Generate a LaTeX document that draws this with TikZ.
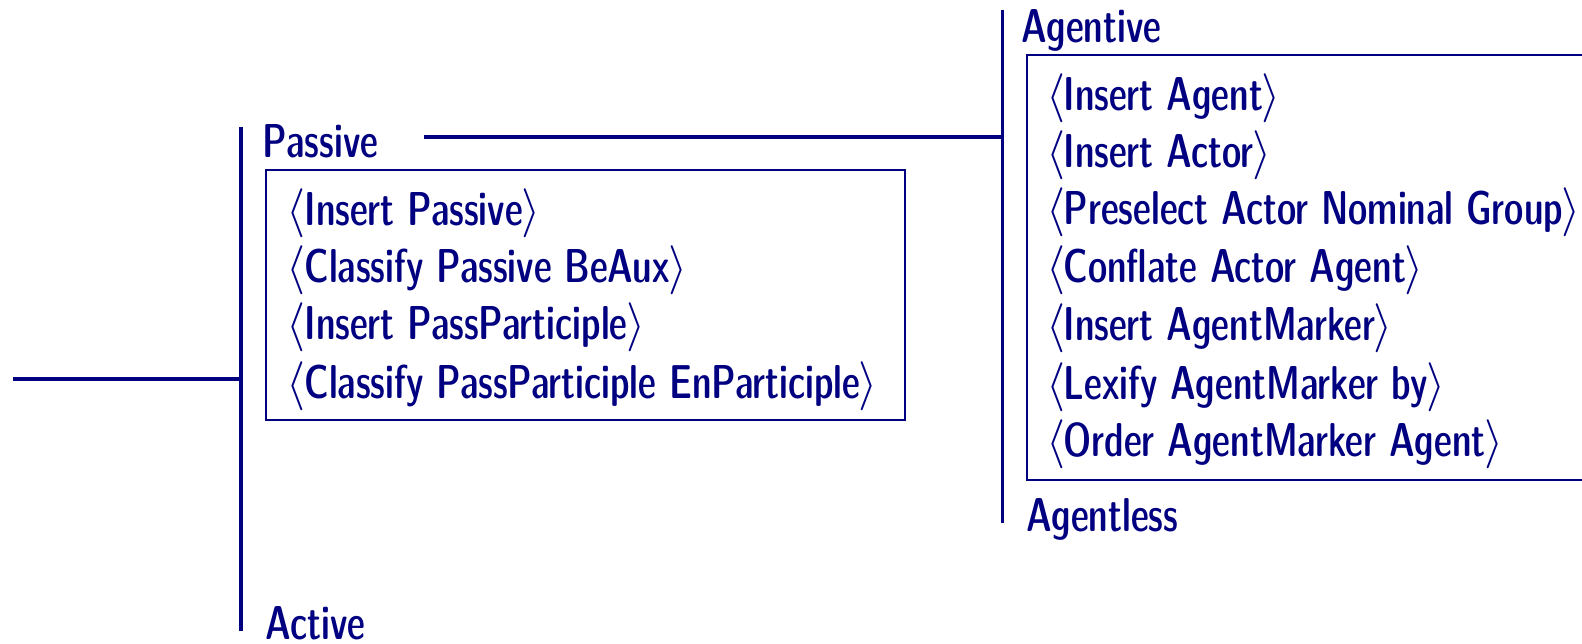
\documentclass[tikz,border=0pt]{standalone}
\usepackage{fontspec}
\newfontfamily\demicond[Extension=.otf, FakeStretch=0.85]{lmsansdemicond10-regular}
\definecolor{ink}{RGB}{0,0,128}
\begin{document}
\begin{tikzpicture}[x=0.204pt, y=-0.204pt,
  label/.style={anchor=base west, inner sep=0pt, text=ink,
    font=\fontsize{9.7}{11.6}\demicond},
  bar/.style={draw=ink, line width=0.62pt},
  frame/.style={draw=ink, line width=0.42pt}]
  \useasboundingbox (0,0) rectangle (1582,644);
  \clip (0,0) rectangle (1582,644);
  \newcommand{\sel}[1]{$\langle$\kern-0.3pt#1\kern-0.3pt$\rangle$}

  % voice system
  \coordinate (in) at (13,379);
  \coordinate (vtop) at (241,127);
  \coordinate (vbot) at (241,631);
  \coordinate (vmid) at (241,379);
  \draw[bar] (in) -- (vmid);
  \draw[bar] (vtop) -- (vbot);

  \node[label] (passive) at (262,158) {Passive};
  \node[label] (active) at (265,639) {Active};

  % passive realization box
  \coordinate (pnw) at (266,170);
  \coordinate (pse) at (905,420);
  \draw[frame] (pnw) rectangle (pse);
  \node[label] (p1) at (286,226) {\sel{Insert Passive}};
  \node[label] (p2) at (286,283) {\sel{Classify Passive BeAux}};
  \node[label] (p3) at (286,340) {\sel{Insert PassParticiple}};
  \node[label] (p4) at (286,398) {\sel{Classify PassParticiple EnParticiple}};

  % agency system
  \coordinate (hstart) at (424,137);
  \coordinate (hend) at (1002,137);
  \coordinate (atop) at (1002,10);
  \coordinate (abot) at (1002,523);
  \draw[bar] (hstart) -- (hend);
  \draw[bar] (atop) -- (abot);

  \node[label] (agentive) at (1020,43) {Agentive};
  \node[label] (agentless) at (1025,531) {Agentless};

  % agentive realization box
  \coordinate (anw) at (1027,55);
  \coordinate (ase) at (1620,480);
  \draw[frame] (anw) rectangle (ase);
  \node[label] (a1) at (1045,111) {\sel{Insert Agent}};
  \node[label] (a2) at (1045,168) {\sel{Insert Actor}};
  \node[label] (a3) at (1045,225) {\sel{Preselect Actor Nominal Group}};
  \node[label] (a4) at (1045,283) {\sel{Conflate Actor Agent}};
  \node[label] (a5) at (1045,341) {\sel{Insert AgentMarker}};
  \node[label] (a6) at (1045,399) {\sel{Lexify AgentMarker by}};
  \node[label] (a7) at (1045,456) {\sel{Order AgentMarker Agent}};
\end{tikzpicture}
\end{document}
